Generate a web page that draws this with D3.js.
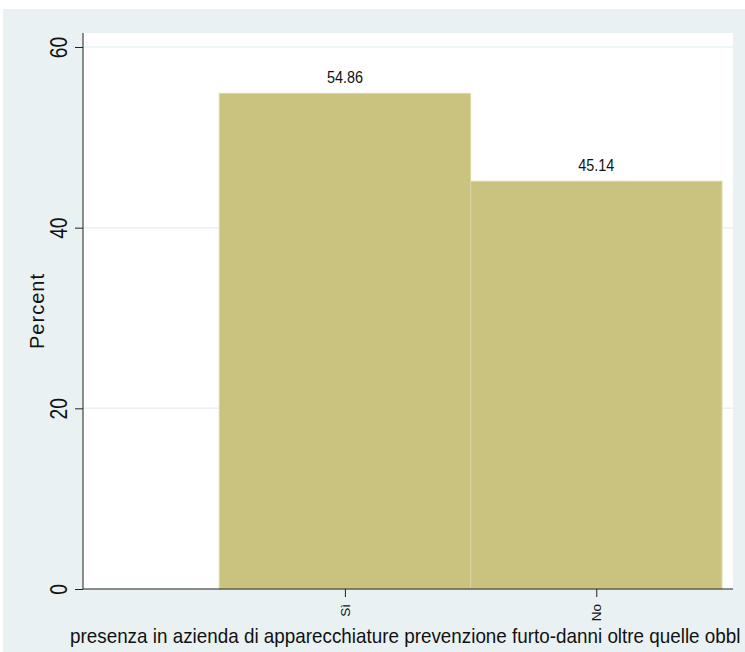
<!DOCTYPE html>
<html><head><meta charset="utf-8">
<script src="https://cdn.jsdelivr.net/npm/d3@7"></script>
<style>body{margin:0;background:#fff}svg{display:block}</style>
</head><body>
<script>
const categories = ["Sì", "No"];
const values = [54.86, 45.14];
const valueLabels = ["54.86", "45.14"];
const yTicks = [0, 20, 40, 60];
const yTitle = "Percent";
const xTitle = "presenza in azienda di apparecchiature prevenzione furto-danni oltre quelle obbl";

(function () {
const W = 745, H = 652;
const svg = d3.select("body").append("svg").attr("width", W).attr("height", H);
svg.append("rect").attr("x", 3).attr("y", 9).attr("width", W - 3).attr("height", H - 9).attr("fill", "#E9F1F3");

const pL = 83, pR = 733, pT = 33, pB = 589;
svg.append("rect").attr("x", pL).attr("y", pT).attr("width", pR - pL).attr("height", pB - pT).attr("fill", "#fff");

// x positions: bars centered at 1, 2 with width 1
const x = d3.scaleLinear().domain([-0.042, 2.544]).range([pL, pR]);
const y = d3.scaleLinear().domain([0, 61.55]).range([pB, pT]);

// gridlines
svg.append("g").selectAll("line").data(yTicks.filter(d => d > 0)).join("line")
  .attr("x1", pL).attr("x2", pR).attr("y1", d => y(d)).attr("y2", d => y(d))
  .attr("stroke", "#EAF2F3").attr("stroke-width", 1.5);

// bars
svg.append("g").selectAll("rect").data(values).join("rect")
  .attr("x", (d, i) => x(i + 0.5)).attr("width", (d, i) => x(i + 1.5) - x(i + 0.5))
  .attr("y", d => y(d)).attr("height", d => y(0) - y(d))
  .attr("fill", "#CAC27F").attr("stroke", "#DAD5A6").attr("stroke-width", 1);

// value labels
svg.append("g").selectAll("text").data(values).join("text")
  .attr("transform", (d, i) => `translate(${x(i + 1)},${y(d) - 10}) scale(0.9,1)`)
  .attr("text-anchor", "middle").attr("font-family", "Liberation Sans, Arial, sans-serif")
  .attr("font-size", 16).attr("fill", "#111")
  .text((d, i) => valueLabels[i]);

// y axis
const yAxis = d3.axisLeft(y).tickValues(yTicks).tickSize(8).tickFormat(d3.format("d"));
const gy = svg.append("g").attr("transform", `translate(${pL},0)`).call(yAxis);
gy.select(".domain").attr("d", `M0,${pT}V${pB}`).attr("stroke", "#222");
gy.selectAll(".tick line").attr("stroke", "#222");
gy.selectAll(".tick text").attr("x", null).attr("dy", null)
  .attr("transform", "translate(-16,0) rotate(-90) scale(0.8,1)")
  .attr("text-anchor", "middle").attr("font-family", "Liberation Sans, Arial, sans-serif")
  .attr("font-size", 24).attr("fill", "#111");

// x axis
const xAxis = d3.axisBottom(x).tickValues([1, 2]).tickSize(8).tickFormat((d) => categories[d - 1]);
const gx = svg.append("g").attr("transform", `translate(0,${pB})`).call(xAxis);
gx.select(".domain").attr("d", `M${pL},0H${pR}`).attr("stroke", "#222");
gx.selectAll(".tick line").attr("stroke", "#222");
gx.selectAll(".tick text").attr("y", null).attr("dy", null)
  .attr("transform", "translate(4.5,15) rotate(-90)")
  .attr("text-anchor", "end").attr("font-family", "Liberation Sans, Arial, sans-serif")
  .attr("font-size", 13.5).attr("fill", "#111");

// titles
svg.append("text").attr("transform", `translate(44,${(pT + pB) / 2}) rotate(-90)`)
  .attr("text-anchor", "middle").attr("font-family", "Liberation Sans, Arial, sans-serif")
  .attr("font-size", 20).attr("letter-spacing", 1).attr("fill", "#111").text(yTitle);

const xt = svg.append("text")
  .attr("font-family", "Liberation Sans, Arial, sans-serif").attr("font-size", 20)
  .attr("fill", "#111").text(xTitle);
const natural = xt.node().getComputedTextLength();
const target = 671;
const fs = 20 * target / natural;
xt.attr("font-size", fs).attr("transform", `translate(70,643) scale(1,${20 / fs})`);
})();
</script>
</body></html>
